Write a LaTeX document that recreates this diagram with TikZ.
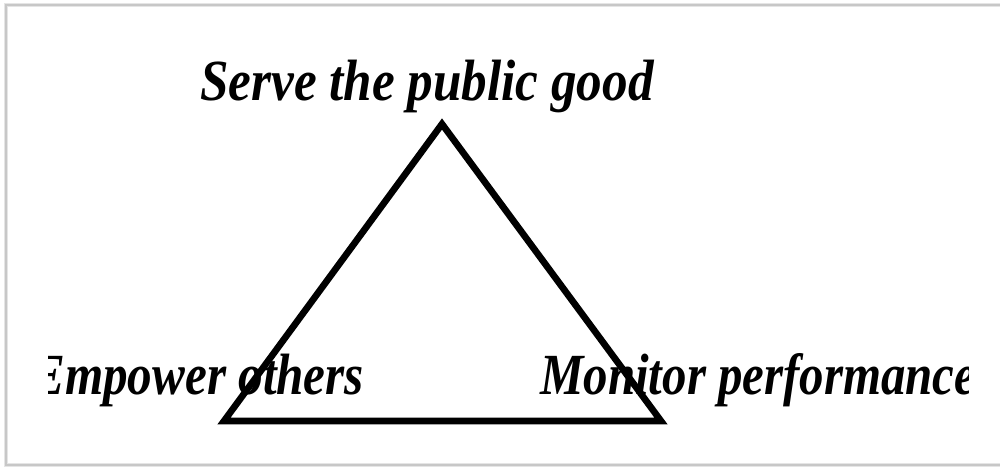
\documentclass[tikz,border=0pt]{standalone}
\usepackage{fontspec}
\setmainfont{Liberation Serif}
\begin{document}
\begin{tikzpicture}[x=0.75pt,y=-0.75pt,
  lbl/.style={inner sep=0pt,anchor=base west,font=\fontsize{38}{40}\selectfont\bfseries\itshape},
  tri/.style={line width=5pt,miter limit=10}]
\useasboundingbox (0,0) rectangle (1000,472);
\fill[white] (0,0) rectangle (1000,472);
\draw[black!10,line width=3.5pt] (6,5) rectangle (1010,465);
\draw[black!22,line width=1pt] (6,5) rectangle (1010,465);
\coordinate (A) at (442,124);
\coordinate (B) at (224,421);
\coordinate (C) at (661,421);
\draw[tri] (A) -- (B) -- (C) -- cycle;
\node[lbl] (top) at (200,100) {\scalebox{1.01}[1.15]{Serve the public good}};
\begin{scope}
\clip (48,300) rectangle (980,440);
\node[lbl] (left) at (32,394) {\scalebox{0.97}[1.15]{Empower others}};
\end{scope}
\begin{scope}
\clip (0,300) rectangle (968,440);
\node[lbl] (right) at (540,394) {\scalebox{0.965}[1.15]{Monitor performance}};
\end{scope}
\end{tikzpicture}
\end{document}
